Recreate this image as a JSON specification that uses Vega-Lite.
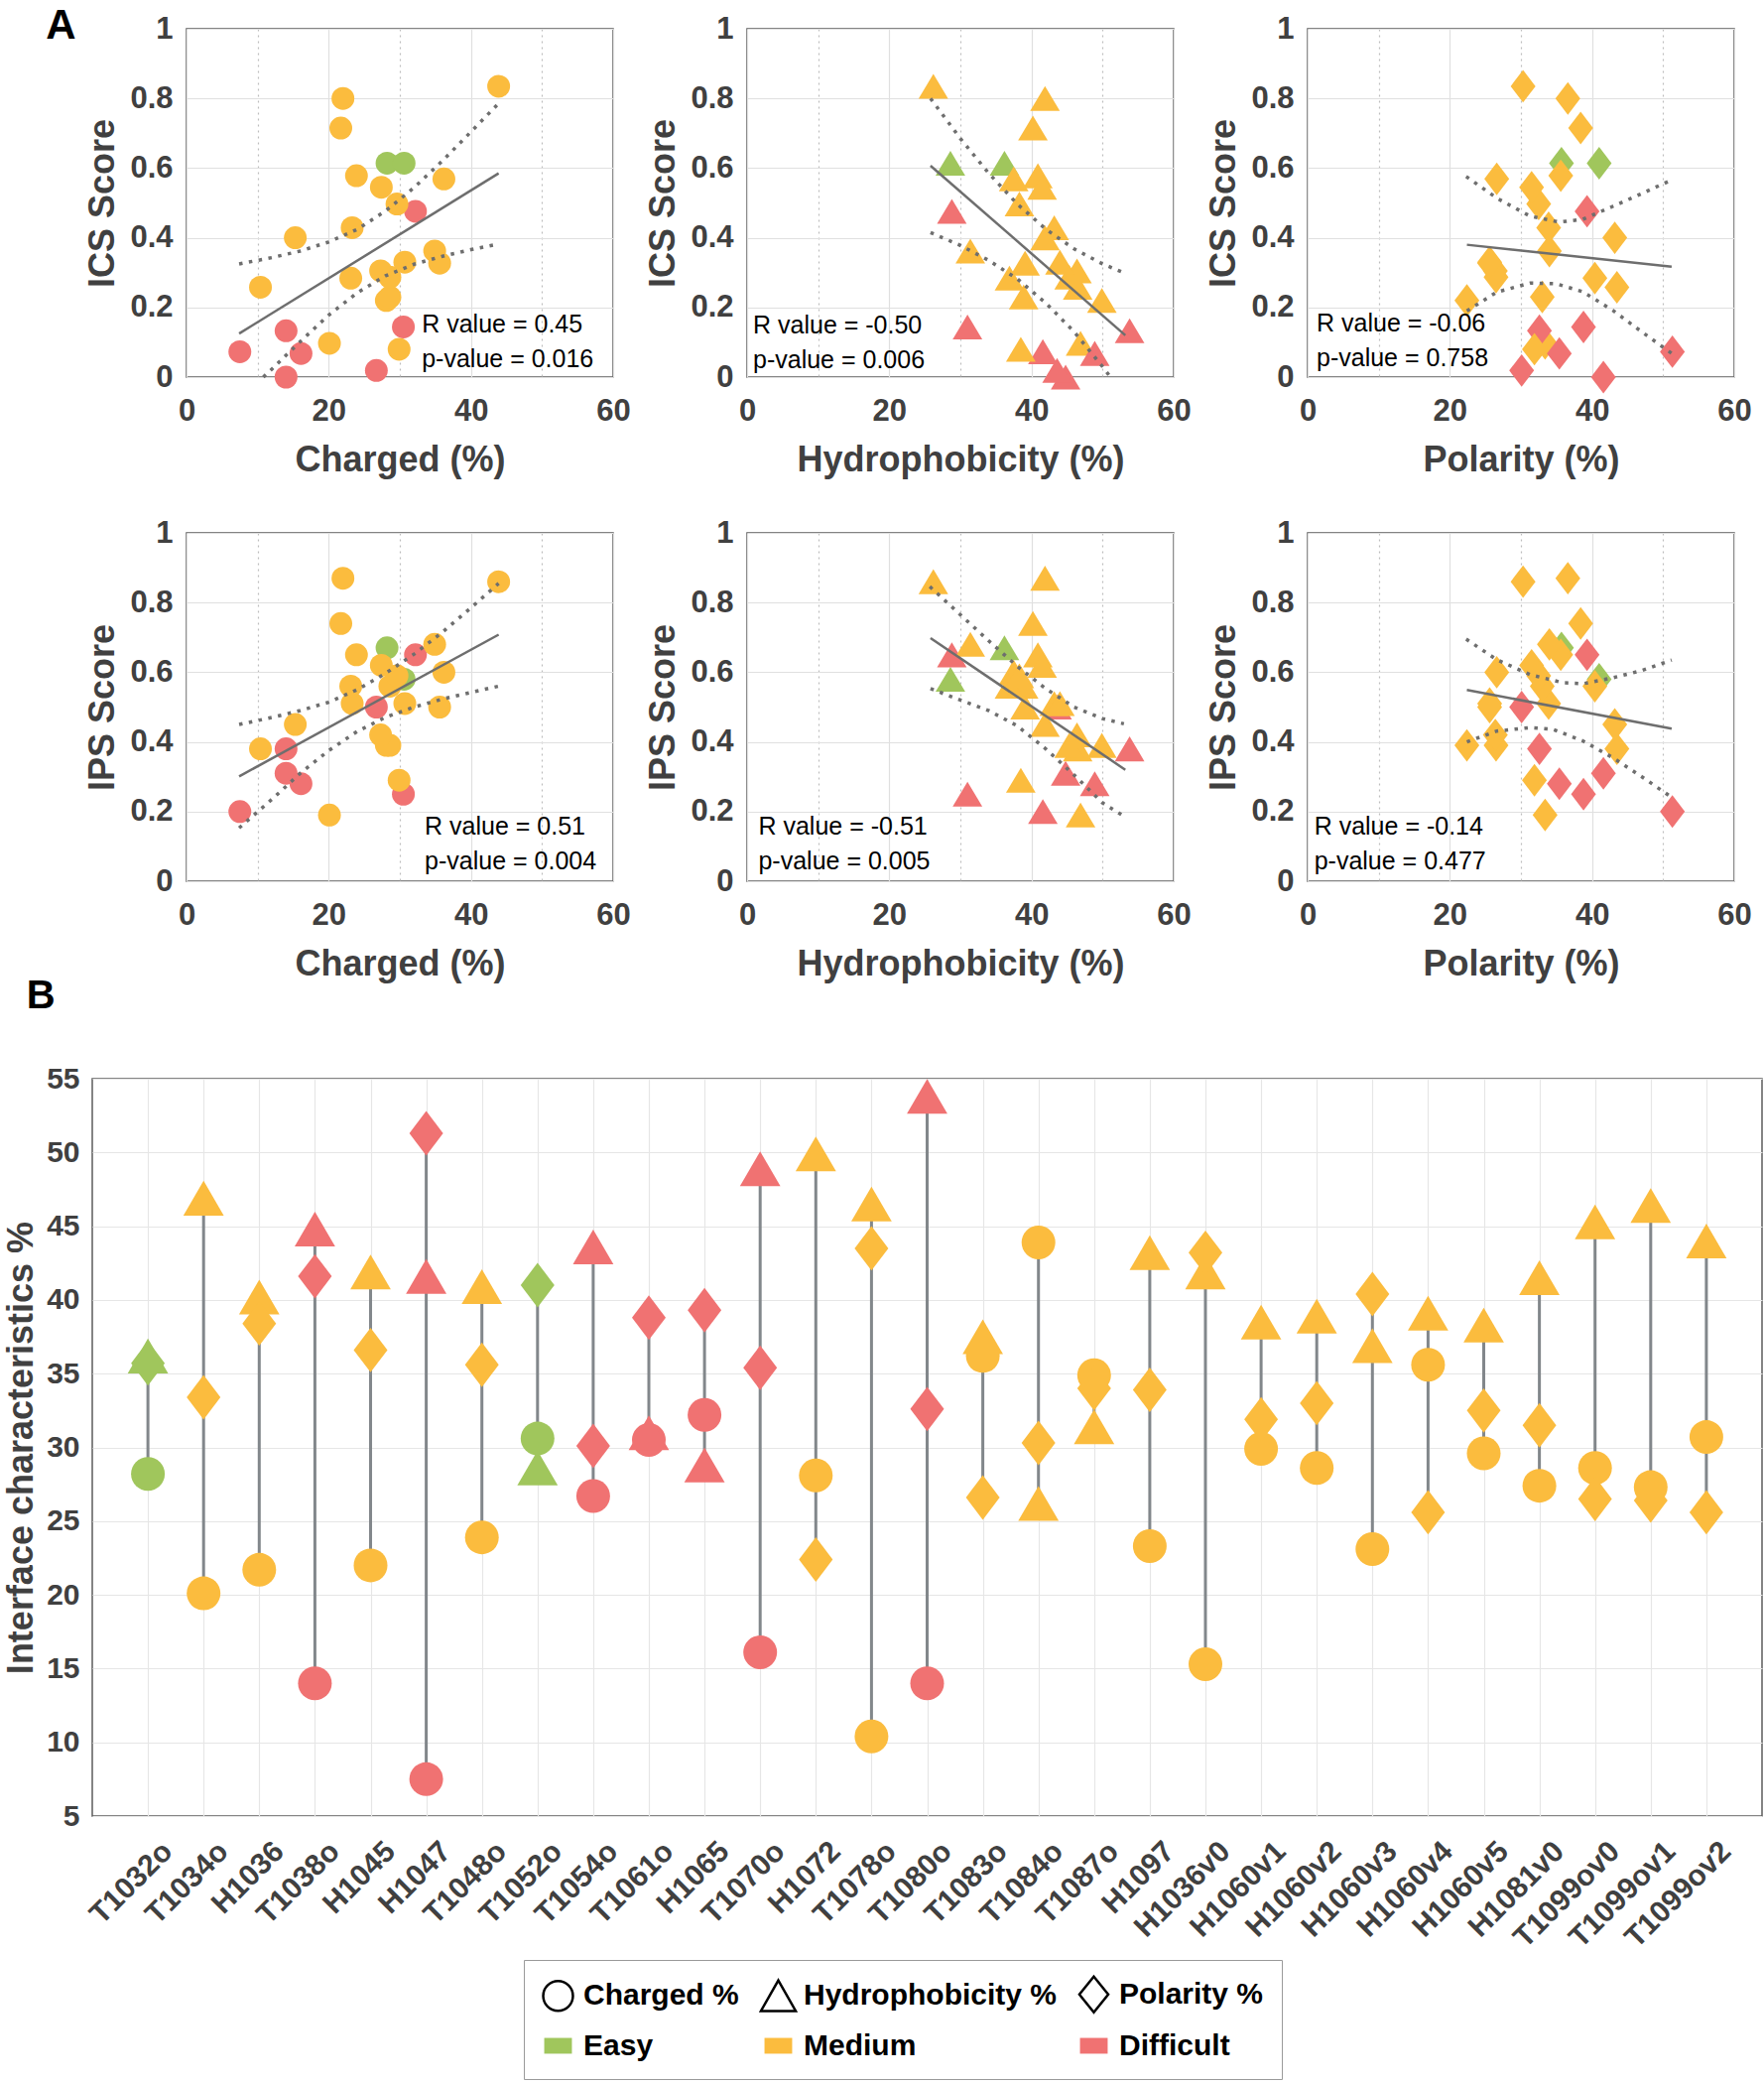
{
"$schema": "https://vega.github.io/schema/vega-lite/v6.json",
"padding": {"left": 2, "top": 5, "right": 0, "bottom": 0},
"background": "white",
"datasets": {
"targets": [
{"target":"T1032o","diff":"Easy","charged":28.2,"hydro":36.2,"polar":35.7,"ics":0.614,"ips":0.67},
{"target":"T1034o","diff":"Medium","charged":20.1,"hydro":46.9,"polar":33.4,"ics":0.097,"ips":0.19},
{"target":"H1036","diff":"Medium","charged":21.7,"hydro":40.2,"polar":38.4,"ics":0.715,"ips":0.74},
{"target":"T1038o","diff":"Difficult","charged":14.0,"hydro":44.8,"polar":41.6,"ics":0.0,"ips":0.31},
{"target":"H1045","diff":"Medium","charged":22.0,"hydro":41.9,"polar":36.6,"ics":0.80,"ips":0.87},
{"target":"H1047","diff":"Difficult","charged":7.5,"hydro":41.6,"polar":51.3,"ics":0.073,"ips":0.20},
{"target":"T1048o","diff":"Medium","charged":23.9,"hydro":40.9,"polar":35.6,"ics":0.578,"ips":0.65},
{"target":"T1052o","diff":"Easy","charged":30.6,"hydro":28.6,"polar":41.0,"ics":0.614,"ips":0.58},
{"target":"T1054o","diff":"Difficult","charged":26.7,"hydro":43.6,"polar":30.1,"ics":0.019,"ips":0.50},
{"target":"T1061o","diff":"Difficult","charged":30.5,"hydro":31.0,"polar":38.8,"ics":0.144,"ips":0.25},
{"target":"H1065","diff":"Difficult","charged":32.2,"hydro":28.8,"polar":39.3,"ics":0.476,"ips":0.65},
{"target":"T1070o","diff":"Difficult","charged":16.1,"hydro":48.9,"polar":35.4,"ics":0.068,"ips":0.28},
{"target":"H1072","diff":"Medium","charged":28.1,"hydro":49.9,"polar":22.4,"ics":0.22,"ips":0.39},
{"target":"T1078o","diff":"Medium","charged":10.4,"hydro":46.5,"polar":43.5,"ics":0.258,"ips":0.38},
{"target":"T1080o","diff":"Difficult","charged":14.0,"hydro":53.8,"polar":32.6,"ics":0.133,"ips":0.38},
{"target":"T1083o","diff":"Medium","charged":36.2,"hydro":37.5,"polar":26.6,"ics":0.569,"ips":0.60},
{"target":"T1084o","diff":"Medium","charged":43.9,"hydro":26.2,"polar":30.3,"ics":0.835,"ips":0.86},
{"target":"T1087o","diff":"Medium","charged":34.9,"hydro":31.4,"polar":34.0,"ics":0.362,"ips":0.68},
{"target":"H1097","diff":"Medium","charged":23.3,"hydro":43.2,"polar":33.9,"ics":0.429,"ips":0.51},
{"target":"H1036v0","diff":"Medium","charged":15.3,"hydro":41.9,"polar":43.2,"ics":0.40,"ips":0.45},
{"target":"H1060v1","diff":"Medium","charged":29.9,"hydro":38.5,"polar":31.9,"ics":0.08,"ips":0.29},
{"target":"H1060v2","diff":"Medium","charged":28.6,"hydro":38.9,"polar":33.0,"ics":0.23,"ips":0.56},
{"target":"H1060v3","diff":"Medium","charged":23.1,"hydro":36.9,"polar":40.4,"ics":0.284,"ips":0.56},
{"target":"H1060v4","diff":"Medium","charged":35.6,"hydro":39.1,"polar":25.6,"ics":0.327,"ips":0.50},
{"target":"H1060v5","diff":"Medium","charged":29.6,"hydro":38.3,"polar":32.5,"ics":0.497,"ips":0.59},
{"target":"H1081v0","diff":"Medium","charged":27.4,"hydro":41.5,"polar":31.5,"ics":0.545,"ips":0.62},
{"target":"T1099ov0","diff":"Medium","charged":28.6,"hydro":45.3,"polar":26.5,"ics":0.287,"ips":0.39},
{"target":"T1099ov1","diff":"Medium","charged":27.3,"hydro":46.4,"polar":26.4,"ics":0.305,"ips":0.42},
{"target":"T1099ov2","diff":"Medium","charged":30.7,"hydro":44.0,"polar":25.6,"ics":0.33,"ips":0.51}
],
"fits": [
{"panel":"p1","kind":"fit","x":7.4,"y":0.125},{"panel":"p1","kind":"fit","x":43.9,"y":0.585},
{"panel":"p1","kind":"upper","x":7.4,"y":0.325},{"panel":"p1","kind":"upper","x":12,"y":0.343},{"panel":"p1","kind":"upper","x":16,"y":0.362},{"panel":"p1","kind":"upper","x":20,"y":0.388},{"panel":"p1","kind":"upper","x":24,"y":0.424},{"panel":"p1","kind":"upper","x":28,"y":0.477},{"panel":"p1","kind":"upper","x":32,"y":0.544},{"panel":"p1","kind":"upper","x":36,"y":0.621},{"panel":"p1","kind":"upper","x":40,"y":0.704},{"panel":"p1","kind":"upper","x":43.9,"y":0.786},
{"panel":"p1","kind":"lower","x":10.8,"y":0.0},{"panel":"p1","kind":"lower","x":12,"y":0.023},{"panel":"p1","kind":"lower","x":16,"y":0.102},{"panel":"p1","kind":"lower","x":20,"y":0.178},{"panel":"p1","kind":"lower","x":24,"y":0.242},{"panel":"p1","kind":"lower","x":28,"y":0.291},{"panel":"p1","kind":"lower","x":32,"y":0.324},{"panel":"p1","kind":"lower","x":36,"y":0.347},{"panel":"p1","kind":"lower","x":40,"y":0.366},{"panel":"p1","kind":"lower","x":43.9,"y":0.382},
{"panel":"p2","kind":"fit","x":25.8,"y":0.607},{"panel":"p2","kind":"fit","x":53.2,"y":0.12},
{"panel":"p2","kind":"upper","x":25.8,"y":0.80},{"panel":"p2","kind":"upper","x":30,"y":0.685},{"panel":"p2","kind":"upper","x":34,"y":0.585},{"panel":"p2","kind":"upper","x":38,"y":0.497},{"panel":"p2","kind":"upper","x":42,"y":0.425},{"panel":"p2","kind":"upper","x":46,"y":0.368},{"panel":"p2","kind":"upper","x":50,"y":0.325},{"panel":"p2","kind":"upper","x":53.2,"y":0.298},
{"panel":"p2","kind":"lower","x":25.8,"y":0.415},{"panel":"p2","kind":"lower","x":30,"y":0.378},{"panel":"p2","kind":"lower","x":34,"y":0.335},{"panel":"p2","kind":"lower","x":38,"y":0.282},{"panel":"p2","kind":"lower","x":42,"y":0.213},{"panel":"p2","kind":"lower","x":46,"y":0.13},{"panel":"p2","kind":"lower","x":50,"y":0.03},{"panel":"p2","kind":"lower","x":51.1,"y":0.0},
{"panel":"p3","kind":"fit","x":22.4,"y":0.38},{"panel":"p3","kind":"fit","x":51.2,"y":0.317},
{"panel":"p3","kind":"upper","x":22.3,"y":0.576},{"panel":"p3","kind":"upper","x":26.6,"y":0.514},{"panel":"p3","kind":"upper","x":31.3,"y":0.462},{"panel":"p3","kind":"upper","x":35.4,"y":0.445},{"panel":"p3","kind":"upper","x":38.7,"y":0.453},{"panel":"p3","kind":"upper","x":42.9,"y":0.49},{"panel":"p3","kind":"upper","x":47,"y":0.527},{"panel":"p3","kind":"upper","x":51.2,"y":0.566},
{"panel":"p3","kind":"lower","x":22.4,"y":0.19},{"panel":"p3","kind":"lower","x":26.6,"y":0.244},{"panel":"p3","kind":"lower","x":31.3,"y":0.27},{"panel":"p3","kind":"lower","x":35,"y":0.268},{"panel":"p3","kind":"lower","x":38.7,"y":0.245},{"panel":"p3","kind":"lower","x":42.9,"y":0.192},{"panel":"p3","kind":"lower","x":47,"y":0.13},{"panel":"p3","kind":"lower","x":51.2,"y":0.068},
{"panel":"p4","kind":"fit","x":7.4,"y":0.301},{"panel":"p4","kind":"fit","x":43.9,"y":0.708},
{"panel":"p4","kind":"upper","x":7.4,"y":0.45},{"panel":"p4","kind":"upper","x":12,"y":0.47},{"panel":"p4","kind":"upper","x":16,"y":0.49},{"panel":"p4","kind":"upper","x":20,"y":0.514},{"panel":"p4","kind":"upper","x":24,"y":0.55},{"panel":"p4","kind":"upper","x":28,"y":0.597},{"panel":"p4","kind":"upper","x":32,"y":0.652},{"panel":"p4","kind":"upper","x":36,"y":0.715},{"panel":"p4","kind":"upper","x":40,"y":0.785},{"panel":"p4","kind":"upper","x":43.9,"y":0.855},
{"panel":"p4","kind":"lower","x":7.4,"y":0.153},{"panel":"p4","kind":"lower","x":12,"y":0.235},{"panel":"p4","kind":"lower","x":16,"y":0.31},{"panel":"p4","kind":"lower","x":20,"y":0.375},{"panel":"p4","kind":"lower","x":24,"y":0.43},{"panel":"p4","kind":"lower","x":28,"y":0.471},{"panel":"p4","kind":"lower","x":32,"y":0.5},{"panel":"p4","kind":"lower","x":36,"y":0.523},{"panel":"p4","kind":"lower","x":40,"y":0.542},{"panel":"p4","kind":"lower","x":43.9,"y":0.56},
{"panel":"p5","kind":"fit","x":25.8,"y":0.698},{"panel":"p5","kind":"fit","x":53.2,"y":0.32},
{"panel":"p5","kind":"upper","x":25.7,"y":0.846},{"panel":"p5","kind":"upper","x":30,"y":0.765},{"panel":"p5","kind":"upper","x":34,"y":0.69},{"panel":"p5","kind":"upper","x":38,"y":0.617},{"panel":"p5","kind":"upper","x":42,"y":0.553},{"panel":"p5","kind":"upper","x":46,"y":0.5},{"panel":"p5","kind":"upper","x":50,"y":0.467},{"panel":"p5","kind":"upper","x":53,"y":0.452},
{"panel":"p5","kind":"lower","x":25.8,"y":0.553},{"panel":"p5","kind":"lower","x":30,"y":0.52},{"panel":"p5","kind":"lower","x":34,"y":0.49},{"panel":"p5","kind":"lower","x":38,"y":0.446},{"panel":"p5","kind":"lower","x":42,"y":0.38},{"panel":"p5","kind":"lower","x":46,"y":0.305},{"panel":"p5","kind":"lower","x":50,"y":0.225},{"panel":"p5","kind":"lower","x":53.2,"y":0.184},
{"panel":"p6","kind":"fit","x":22.4,"y":0.549},{"panel":"p6","kind":"fit","x":51.2,"y":0.438},
{"panel":"p6","kind":"upper","x":22.3,"y":0.695},{"panel":"p6","kind":"upper","x":26.6,"y":0.636},{"panel":"p6","kind":"upper","x":31.3,"y":0.593},{"panel":"p6","kind":"upper","x":35.9,"y":0.57},{"panel":"p6","kind":"upper","x":38.7,"y":0.567},{"panel":"p6","kind":"upper","x":42.9,"y":0.584},{"panel":"p6","kind":"upper","x":47,"y":0.605},{"panel":"p6","kind":"upper","x":51.2,"y":0.635},
{"panel":"p6","kind":"lower","x":22.4,"y":0.40},{"panel":"p6","kind":"lower","x":26.6,"y":0.431},{"panel":"p6","kind":"lower","x":31.3,"y":0.441},{"panel":"p6","kind":"lower","x":34.5,"y":0.436},{"panel":"p6","kind":"lower","x":38.7,"y":0.403},{"panel":"p6","kind":"lower","x":42.9,"y":0.355},{"panel":"p6","kind":"lower","x":47,"y":0.30},{"panel":"p6","kind":"lower","x":51.2,"y":0.241}
]
},
"vconcat": [
{
"title": {"text": "A", "anchor": "start", "fontSize": 42, "fontWeight": "bold", "color": "black", "offset": 0, "dx": -39, "dy": 36},
"spacing": 38,
"vconcat": [
{"spacing": -10, "hconcat": [
{"width": 2, "height": 351, "data": {"values": []}, "mark": {"type": "point"}, "view": {"stroke": null}},
{"spacing": 14, "hconcat": [
{"width": 430, "height": 351, "layer": [
 {"data": {"name": "targets"}, "mark": {"type": "point", "filled": true, "opacity": 1, "size": 529, "shape": "circle", "strokeWidth": 0},
  "encoding": {
   "x": {"field": "charged", "type": "quantitative", "title": "Charged (%)", "scale": {"domain": [0, 60], "nice": false, "zero": false},
    "axis": {"values": [0,5,10,15,20,25,30,35,40,45,50,55,60], "format": "~g", "labelExpr": "datum.value % 20 === 0 ? datum.label : ''", "gridDash": {"condition": {"test": "datum.value % 20 !== 0", "value": [2,4]}, "value": []}, "gridColor": {"condition": {"test": "datum.value % 20 !== 0", "value": "#bdbdbd"}, "value": "#e0e0e0"}, "labelFontSize": 31, "labelPadding": 19, "titleFontSize": 36, "titlePadding": 17, "labelFlush": false, "labelOverlap": false}},
   "y": {"field": "ics", "type": "quantitative", "title": "ICS Score", "scale": {"domain": [0, 1], "nice": false, "zero": false},
    "axis": {"values": [0,0.05,0.1,0.15,0.2,0.25,0.3,0.35,0.4,0.45,0.5,0.55,0.6,0.65,0.7,0.75,0.8,0.85,0.9,0.95,1], "format": "~g", "labelExpr": "abs(datum.value*5 - round(datum.value*5)) < 0.01 ? datum.label : ''", "gridDash": {"condition": {"test": "abs(datum.value*5 - round(datum.value*5)) > 0.01", "value": [2,4]}, "value": []}, "gridColor": {"condition": {"test": "abs(datum.value*5 - round(datum.value*5)) > 0.01", "value": "#bdbdbd"}, "value": "#e0e0e0"}, "labelFontSize": 31, "labelPadding": 14, "titleFontSize": 36, "titlePadding": 8, "labelFlush": false, "labelOverlap": false}},
   "color": {"field": "diff", "type": "nominal", "scale": {"domain": ["Easy","Medium","Difficult"], "range": ["#a0c65c","#fbbc3e","#f07272"]}, "legend": null}}},
 {"data": {"name": "fits"}, "transform": [{"filter": "datum.panel === 'p1' && datum.kind !== 'fit'"}], "mark": {"type": "line", "strokeDash": [3.5, 6.5], "strokeWidth": 3.5, "color": "#6e6e6e"},
  "encoding": {"x": {"field": "x", "type": "quantitative", "title": "Charged (%)"}, "y": {"field": "y", "type": "quantitative", "title": "ICS Score"}, "detail": {"field": "kind"}}},
 {"data": {"name": "fits"}, "transform": [{"filter": "datum.panel === 'p1' && datum.kind === 'fit'"}], "mark": {"type": "line", "strokeWidth": 2.5, "color": "#6e6e6e"},
  "encoding": {"x": {"field": "x", "type": "quantitative", "title": "Charged (%)"}, "y": {"field": "y", "type": "quantitative", "title": "ICS Score"}}},
 {"data": {"values": [{}]}, "mark": {"type": "text", "text": ["R value = 0.45", "p-value = 0.016"], "align": "left", "baseline": "alphabetic", "fontSize": 25, "lineHeight": 35, "font": "Liberation Sans", "color": "black"},
  "encoding": {"x": {"datum": 33.1}, "y": {"datum": 0.128}}}
]},
{"width": 430, "height": 351, "layer": [
 {"data": {"name": "targets"}, "mark": {"type": "point", "filled": true, "opacity": 1, "size": 529, "shape": "M0,-1.09L1.3,1.09L-1.3,1.09Z", "strokeWidth": 0},
  "encoding": {
   "x": {"field": "hydro", "type": "quantitative", "title": "Hydrophobicity (%)", "scale": {"domain": [0, 60], "nice": false, "zero": false},
    "axis": {"values": [0,5,10,15,20,25,30,35,40,45,50,55,60], "format": "~g", "labelExpr": "datum.value % 20 === 0 ? datum.label : ''", "gridDash": {"condition": {"test": "datum.value % 20 !== 0", "value": [2,4]}, "value": []}, "gridColor": {"condition": {"test": "datum.value % 20 !== 0", "value": "#bdbdbd"}, "value": "#e0e0e0"}, "labelFontSize": 31, "labelPadding": 19, "titleFontSize": 36, "titlePadding": 17, "labelFlush": false, "labelOverlap": false}},
   "y": {"field": "ics", "type": "quantitative", "title": "ICS Score", "scale": {"domain": [0, 1], "nice": false, "zero": false},
    "axis": {"values": [0,0.05,0.1,0.15,0.2,0.25,0.3,0.35,0.4,0.45,0.5,0.55,0.6,0.65,0.7,0.75,0.8,0.85,0.9,0.95,1], "format": "~g", "labelExpr": "abs(datum.value*5 - round(datum.value*5)) < 0.01 ? datum.label : ''", "gridDash": {"condition": {"test": "abs(datum.value*5 - round(datum.value*5)) > 0.01", "value": [2,4]}, "value": []}, "gridColor": {"condition": {"test": "abs(datum.value*5 - round(datum.value*5)) > 0.01", "value": "#bdbdbd"}, "value": "#e0e0e0"}, "labelFontSize": 31, "labelPadding": 14, "titleFontSize": 36, "titlePadding": 8, "labelFlush": false, "labelOverlap": false}},
   "color": {"field": "diff", "type": "nominal", "scale": {"domain": ["Easy","Medium","Difficult"], "range": ["#a0c65c","#fbbc3e","#f07272"]}, "legend": null}}},
 {"data": {"name": "fits"}, "transform": [{"filter": "datum.panel === 'p2' && datum.kind !== 'fit'"}], "mark": {"type": "line", "strokeDash": [3.5, 6.5], "strokeWidth": 3.5, "color": "#6e6e6e"},
  "encoding": {"x": {"field": "x", "type": "quantitative", "title": "Hydrophobicity (%)"}, "y": {"field": "y", "type": "quantitative", "title": "ICS Score"}, "detail": {"field": "kind"}}},
 {"data": {"name": "fits"}, "transform": [{"filter": "datum.panel === 'p2' && datum.kind === 'fit'"}], "mark": {"type": "line", "strokeWidth": 2.5, "color": "#6e6e6e"},
  "encoding": {"x": {"field": "x", "type": "quantitative", "title": "Hydrophobicity (%)"}, "y": {"field": "y", "type": "quantitative", "title": "ICS Score"}}},
 {"data": {"values": [{}]}, "mark": {"type": "text", "text": ["R value = -0.50", "p-value = 0.006"], "align": "left", "baseline": "alphabetic", "fontSize": 25, "lineHeight": 35, "font": "Liberation Sans", "color": "black"},
  "encoding": {"x": {"datum": 0.84}, "y": {"datum": 0.126}}}
]},
{"width": 430, "height": 351, "layer": [
 {"data": {"name": "targets"}, "mark": {"type": "point", "filled": true, "opacity": 1, "size": 529, "shape": "M0,-1.43L1.09,0L0,1.43L-1.09,0Z", "strokeWidth": 0},
  "encoding": {
   "x": {"field": "polar", "type": "quantitative", "title": "Polarity (%)", "scale": {"domain": [0, 60], "nice": false, "zero": false},
    "axis": {"values": [0,5,10,15,20,25,30,35,40,45,50,55,60], "format": "~g", "labelExpr": "datum.value % 20 === 0 ? datum.label : ''", "gridDash": {"condition": {"test": "datum.value % 20 !== 0", "value": [2,4]}, "value": []}, "gridColor": {"condition": {"test": "datum.value % 20 !== 0", "value": "#bdbdbd"}, "value": "#e0e0e0"}, "labelFontSize": 31, "labelPadding": 19, "titleFontSize": 36, "titlePadding": 17, "labelFlush": false, "labelOverlap": false}},
   "y": {"field": "ics", "type": "quantitative", "title": "ICS Score", "scale": {"domain": [0, 1], "nice": false, "zero": false},
    "axis": {"values": [0,0.05,0.1,0.15,0.2,0.25,0.3,0.35,0.4,0.45,0.5,0.55,0.6,0.65,0.7,0.75,0.8,0.85,0.9,0.95,1], "format": "~g", "labelExpr": "abs(datum.value*5 - round(datum.value*5)) < 0.01 ? datum.label : ''", "gridDash": {"condition": {"test": "abs(datum.value*5 - round(datum.value*5)) > 0.01", "value": [2,4]}, "value": []}, "gridColor": {"condition": {"test": "abs(datum.value*5 - round(datum.value*5)) > 0.01", "value": "#bdbdbd"}, "value": "#e0e0e0"}, "labelFontSize": 31, "labelPadding": 14, "titleFontSize": 36, "titlePadding": 8, "labelFlush": false, "labelOverlap": false}},
   "color": {"field": "diff", "type": "nominal", "scale": {"domain": ["Easy","Medium","Difficult"], "range": ["#a0c65c","#fbbc3e","#f07272"]}, "legend": null}}},
 {"data": {"name": "fits"}, "transform": [{"filter": "datum.panel === 'p3' && datum.kind !== 'fit'"}], "mark": {"type": "line", "strokeDash": [3.5, 6.5], "strokeWidth": 3.5, "color": "#6e6e6e"},
  "encoding": {"x": {"field": "x", "type": "quantitative", "title": "Polarity (%)"}, "y": {"field": "y", "type": "quantitative", "title": "ICS Score"}, "detail": {"field": "kind"}}},
 {"data": {"name": "fits"}, "transform": [{"filter": "datum.panel === 'p3' && datum.kind === 'fit'"}], "mark": {"type": "line", "strokeWidth": 2.5, "color": "#6e6e6e"},
  "encoding": {"x": {"field": "x", "type": "quantitative", "title": "Polarity (%)"}, "y": {"field": "y", "type": "quantitative", "title": "ICS Score"}}},
 {"data": {"values": [{}]}, "mark": {"type": "text", "text": ["R value = -0.06", "p-value = 0.758"], "align": "left", "baseline": "alphabetic", "fontSize": 25, "lineHeight": 35, "font": "Liberation Sans", "color": "black"},
  "encoding": {"x": {"datum": 1.26}, "y": {"datum": 0.132}}}
]}
]}
]},
{"spacing": -10, "hconcat": [
{"width": 2, "height": 351, "data": {"values": []}, "mark": {"type": "point"}, "view": {"stroke": null}},
{"spacing": 14, "hconcat": [
{"width": 430, "height": 351, "layer": [
 {"data": {"name": "targets"}, "mark": {"type": "point", "filled": true, "opacity": 1, "size": 529, "shape": "circle", "strokeWidth": 0},
  "encoding": {
   "x": {"field": "charged", "type": "quantitative", "title": "Charged (%)", "scale": {"domain": [0, 60], "nice": false, "zero": false},
    "axis": {"values": [0,5,10,15,20,25,30,35,40,45,50,55,60], "format": "~g", "labelExpr": "datum.value % 20 === 0 ? datum.label : ''", "gridDash": {"condition": {"test": "datum.value % 20 !== 0", "value": [2,4]}, "value": []}, "gridColor": {"condition": {"test": "datum.value % 20 !== 0", "value": "#bdbdbd"}, "value": "#e0e0e0"}, "labelFontSize": 31, "labelPadding": 19, "titleFontSize": 36, "titlePadding": 17, "labelFlush": false, "labelOverlap": false}},
   "y": {"field": "ips", "type": "quantitative", "title": "IPS Score", "scale": {"domain": [0, 1], "nice": false, "zero": false},
    "axis": {"values": [0,0.05,0.1,0.15,0.2,0.25,0.3,0.35,0.4,0.45,0.5,0.55,0.6,0.65,0.7,0.75,0.8,0.85,0.9,0.95,1], "format": "~g", "labelExpr": "abs(datum.value*5 - round(datum.value*5)) < 0.01 ? datum.label : ''", "gridDash": {"condition": {"test": "abs(datum.value*5 - round(datum.value*5)) > 0.01", "value": [2,4]}, "value": []}, "gridColor": {"condition": {"test": "abs(datum.value*5 - round(datum.value*5)) > 0.01", "value": "#bdbdbd"}, "value": "#e0e0e0"}, "labelFontSize": 31, "labelPadding": 14, "titleFontSize": 36, "titlePadding": 8, "labelFlush": false, "labelOverlap": false}},
   "color": {"field": "diff", "type": "nominal", "scale": {"domain": ["Easy","Medium","Difficult"], "range": ["#a0c65c","#fbbc3e","#f07272"]}, "legend": null}}},
 {"data": {"name": "fits"}, "transform": [{"filter": "datum.panel === 'p4' && datum.kind !== 'fit'"}], "mark": {"type": "line", "strokeDash": [3.5, 6.5], "strokeWidth": 3.5, "color": "#6e6e6e"},
  "encoding": {"x": {"field": "x", "type": "quantitative", "title": "Charged (%)"}, "y": {"field": "y", "type": "quantitative", "title": "IPS Score"}, "detail": {"field": "kind"}}},
 {"data": {"name": "fits"}, "transform": [{"filter": "datum.panel === 'p4' && datum.kind === 'fit'"}], "mark": {"type": "line", "strokeWidth": 2.5, "color": "#6e6e6e"},
  "encoding": {"x": {"field": "x", "type": "quantitative", "title": "Charged (%)"}, "y": {"field": "y", "type": "quantitative", "title": "IPS Score"}}},
 {"data": {"values": [{}]}, "mark": {"type": "text", "text": ["R value = 0.51", "p-value = 0.004"], "align": "left", "baseline": "alphabetic", "fontSize": 25, "lineHeight": 35, "font": "Liberation Sans", "color": "black"},
  "encoding": {"x": {"datum": 33.5}, "y": {"datum": 0.134}}}
]},
{"width": 430, "height": 351, "layer": [
 {"data": {"name": "targets"}, "mark": {"type": "point", "filled": true, "opacity": 1, "size": 529, "shape": "M0,-1.09L1.3,1.09L-1.3,1.09Z", "strokeWidth": 0},
  "encoding": {
   "x": {"field": "hydro", "type": "quantitative", "title": "Hydrophobicity (%)", "scale": {"domain": [0, 60], "nice": false, "zero": false},
    "axis": {"values": [0,5,10,15,20,25,30,35,40,45,50,55,60], "format": "~g", "labelExpr": "datum.value % 20 === 0 ? datum.label : ''", "gridDash": {"condition": {"test": "datum.value % 20 !== 0", "value": [2,4]}, "value": []}, "gridColor": {"condition": {"test": "datum.value % 20 !== 0", "value": "#bdbdbd"}, "value": "#e0e0e0"}, "labelFontSize": 31, "labelPadding": 19, "titleFontSize": 36, "titlePadding": 17, "labelFlush": false, "labelOverlap": false}},
   "y": {"field": "ips", "type": "quantitative", "title": "IPS Score", "scale": {"domain": [0, 1], "nice": false, "zero": false},
    "axis": {"values": [0,0.05,0.1,0.15,0.2,0.25,0.3,0.35,0.4,0.45,0.5,0.55,0.6,0.65,0.7,0.75,0.8,0.85,0.9,0.95,1], "format": "~g", "labelExpr": "abs(datum.value*5 - round(datum.value*5)) < 0.01 ? datum.label : ''", "gridDash": {"condition": {"test": "abs(datum.value*5 - round(datum.value*5)) > 0.01", "value": [2,4]}, "value": []}, "gridColor": {"condition": {"test": "abs(datum.value*5 - round(datum.value*5)) > 0.01", "value": "#bdbdbd"}, "value": "#e0e0e0"}, "labelFontSize": 31, "labelPadding": 14, "titleFontSize": 36, "titlePadding": 8, "labelFlush": false, "labelOverlap": false}},
   "color": {"field": "diff", "type": "nominal", "scale": {"domain": ["Easy","Medium","Difficult"], "range": ["#a0c65c","#fbbc3e","#f07272"]}, "legend": null}}},
 {"data": {"name": "fits"}, "transform": [{"filter": "datum.panel === 'p5' && datum.kind !== 'fit'"}], "mark": {"type": "line", "strokeDash": [3.5, 6.5], "strokeWidth": 3.5, "color": "#6e6e6e"},
  "encoding": {"x": {"field": "x", "type": "quantitative", "title": "Hydrophobicity (%)"}, "y": {"field": "y", "type": "quantitative", "title": "IPS Score"}, "detail": {"field": "kind"}}},
 {"data": {"name": "fits"}, "transform": [{"filter": "datum.panel === 'p5' && datum.kind === 'fit'"}], "mark": {"type": "line", "strokeWidth": 2.5, "color": "#6e6e6e"},
  "encoding": {"x": {"field": "x", "type": "quantitative", "title": "Hydrophobicity (%)"}, "y": {"field": "y", "type": "quantitative", "title": "IPS Score"}}},
 {"data": {"values": [{}]}, "mark": {"type": "text", "text": ["R value = -0.51", "p-value = 0.005"], "align": "left", "baseline": "alphabetic", "fontSize": 25, "lineHeight": 35, "font": "Liberation Sans", "color": "black"},
  "encoding": {"x": {"datum": 1.6}, "y": {"datum": 0.134}}}
]},
{"width": 430, "height": 351, "layer": [
 {"data": {"name": "targets"}, "mark": {"type": "point", "filled": true, "opacity": 1, "size": 529, "shape": "M0,-1.43L1.09,0L0,1.43L-1.09,0Z", "strokeWidth": 0},
  "encoding": {
   "x": {"field": "polar", "type": "quantitative", "title": "Polarity (%)", "scale": {"domain": [0, 60], "nice": false, "zero": false},
    "axis": {"values": [0,5,10,15,20,25,30,35,40,45,50,55,60], "format": "~g", "labelExpr": "datum.value % 20 === 0 ? datum.label : ''", "gridDash": {"condition": {"test": "datum.value % 20 !== 0", "value": [2,4]}, "value": []}, "gridColor": {"condition": {"test": "datum.value % 20 !== 0", "value": "#bdbdbd"}, "value": "#e0e0e0"}, "labelFontSize": 31, "labelPadding": 19, "titleFontSize": 36, "titlePadding": 17, "labelFlush": false, "labelOverlap": false}},
   "y": {"field": "ips", "type": "quantitative", "title": "IPS Score", "scale": {"domain": [0, 1], "nice": false, "zero": false},
    "axis": {"values": [0,0.05,0.1,0.15,0.2,0.25,0.3,0.35,0.4,0.45,0.5,0.55,0.6,0.65,0.7,0.75,0.8,0.85,0.9,0.95,1], "format": "~g", "labelExpr": "abs(datum.value*5 - round(datum.value*5)) < 0.01 ? datum.label : ''", "gridDash": {"condition": {"test": "abs(datum.value*5 - round(datum.value*5)) > 0.01", "value": [2,4]}, "value": []}, "gridColor": {"condition": {"test": "abs(datum.value*5 - round(datum.value*5)) > 0.01", "value": "#bdbdbd"}, "value": "#e0e0e0"}, "labelFontSize": 31, "labelPadding": 14, "titleFontSize": 36, "titlePadding": 8, "labelFlush": false, "labelOverlap": false}},
   "color": {"field": "diff", "type": "nominal", "scale": {"domain": ["Easy","Medium","Difficult"], "range": ["#a0c65c","#fbbc3e","#f07272"]}, "legend": null}}},
 {"data": {"name": "fits"}, "transform": [{"filter": "datum.panel === 'p6' && datum.kind !== 'fit'"}], "mark": {"type": "line", "strokeDash": [3.5, 6.5], "strokeWidth": 3.5, "color": "#6e6e6e"},
  "encoding": {"x": {"field": "x", "type": "quantitative", "title": "Polarity (%)"}, "y": {"field": "y", "type": "quantitative", "title": "IPS Score"}, "detail": {"field": "kind"}}},
 {"data": {"name": "fits"}, "transform": [{"filter": "datum.panel === 'p6' && datum.kind === 'fit'"}], "mark": {"type": "line", "strokeWidth": 2.5, "color": "#6e6e6e"},
  "encoding": {"x": {"field": "x", "type": "quantitative", "title": "Polarity (%)"}, "y": {"field": "y", "type": "quantitative", "title": "IPS Score"}}},
 {"data": {"values": [{}]}, "mark": {"type": "text", "text": ["R value = -0.14", "p-value = 0.477"], "align": "left", "baseline": "alphabetic", "fontSize": 25, "lineHeight": 35, "font": "Liberation Sans", "color": "black"},
  "encoding": {"x": {"datum": 0.93}, "y": {"datum": 0.134}}}
]}
]}
]}
]
},
{
"width": 1683, "height": 743,
"title": {"text": "B", "anchor": "start", "fontSize": 40, "fontWeight": "bold", "color": "black", "offset": 48, "dx": 23},
"layer": [
 {"data": {"name": "targets"}, "transform": [{"fold": ["charged", "hydro", "polar"], "as": ["prop", "value"]}],
  "mark": {"type": "rule", "color": "#82878b", "strokeWidth": 3},
  "encoding": {
   "x": {"field": "target", "type": "ordinal", "sort": null, "title": null, "scale": {"type": "point", "padding": 1},
    "axis": {"labelAngle": -45, "labelAlign": "right", "labelBaseline": "top", "labelFontSize": 30, "labelPadding": 20, "labelOffset": 9, "grid": true, "gridColor": "#e6e6e6", "labelOverlap": false}},
   "y": {"aggregate": "min", "field": "value", "type": "quantitative", "title": "Interface characteristics %", "scale": {"domain": [5, 55], "nice": false, "zero": false},
    "axis": {"values": [5,10,15,20,25,30,35,40,45,50,55], "labelFontSize": 30, "labelPadding": 13, "titleFontSize": 36, "titlePadding": 6, "grid": true, "gridColor": "#e6e6e6", "labelFlush": false, "labelOverlap": false}},
   "y2": {"aggregate": "max", "field": "value"}}},
 {"data": {"name": "targets"}, "transform": [{"fold": ["charged", "hydro", "polar"], "as": ["prop", "value"]}],
  "mark": {"type": "point", "filled": true, "opacity": 1, "size": 1156, "strokeWidth": 0},
  "encoding": {
   "x": {"field": "target", "type": "ordinal", "sort": null, "title": null},
   "y": {"field": "value", "type": "quantitative", "title": "Interface characteristics %"},
   "color": {"field": "diff", "type": "nominal", "scale": {"domain": ["Easy","Medium","Difficult"], "range": ["#a0c65c","#fbbc3e","#f07272"]}, "legend": null},
   "shape": {"field": "prop", "type": "nominal", "scale": {"domain": ["charged","hydro","polar"], "range": ["circle", "M0,-1.03L1.2,1.03L-1.2,1.03Z", "M0,-1.32L1,0L0,1.32L-1,0Z"]}, "legend": null}}},
 {"data": {"values": [{"key": "Charged %"}, {"key": "Hydrophobicity %"}, {"key": "Polarity %"}, {"key": "Easy"}, {"key": "Medium"}, {"key": "Difficult"}]},
  "transform": [{"filter": "datum.key === 'none'"}],
  "mark": {"type": "point", "filled": true, "size": 900},
  "encoding": {
   "fill": {"field": "key", "type": "nominal", "scale": {"domain": ["Charged %","Hydrophobicity %","Polarity %","Easy","Medium","Difficult"], "range": ["white","white","white","#a0c65c","#fbbc3e","#f07272"]},
    "legend": {"title": null, "orient": "none", "legendX": 435, "legendY": 888, "direction": "horizontal", "columns": 3, "columnPadding": 16, "rowPadding": 12, "padding": 18, "strokeColor": "#9a9a9a", "fillColor": "white", "symbolSize": 900, "symbolStrokeWidth": 2.5, "labelFontSize": 30, "labelFontWeight": "bold", "labelColor": "black", "labelFont": "Liberation Sans", "labelOffset": 9, "labelLimit": 400, "symbolOpacity": 1}},
   "stroke": {"field": "key", "type": "nominal", "scale": {"domain": ["Charged %","Hydrophobicity %","Polarity %","Easy","Medium","Difficult"], "range": ["black","black","black","transparent","transparent","transparent"]},
    "legend": {"title": null, "orient": "none", "legendX": 435, "legendY": 888, "direction": "horizontal", "columns": 3, "columnPadding": 16, "rowPadding": 12, "padding": 18, "strokeColor": "#9a9a9a", "fillColor": "white", "symbolSize": 900, "symbolStrokeWidth": 2.5, "labelFontSize": 30, "labelFontWeight": "bold", "labelColor": "black", "labelFont": "Liberation Sans", "labelOffset": 9, "labelLimit": 400, "symbolOpacity": 1}},
   "shape": {"field": "key", "type": "nominal", "scale": {"domain": ["Charged %","Hydrophobicity %","Polarity %","Easy","Medium","Difficult"], "range": ["circle", "M0,-1.03L1.17,1.03L-1.17,1.03Z", "M0,-1.2L0.97,0L0,1.2L-0.97,0Z", "M-0.93,-0.53L0.93,-0.53L0.93,0.53L-0.93,0.53Z", "M-0.93,-0.53L0.93,-0.53L0.93,0.53L-0.93,0.53Z", "M-0.93,-0.53L0.93,-0.53L0.93,0.53L-0.93,0.53Z"]},
    "legend": {"title": null, "orient": "none", "legendX": 435, "legendY": 888, "direction": "horizontal", "columns": 3, "columnPadding": 16, "rowPadding": 12, "padding": 18, "strokeColor": "#9a9a9a", "fillColor": "white", "symbolSize": 900, "symbolStrokeWidth": 2.5, "labelFontSize": 30, "labelFontWeight": "bold", "labelColor": "black", "labelFont": "Liberation Sans", "labelOffset": 9, "labelLimit": 400, "symbolOpacity": 1}}}}
],
"resolve": {"scale": {"shape": "independent", "fill": "independent", "stroke": "independent"}}
}
],
"spacing": -7,
"config": {
 "font": "Liberation Sans",
 "view": {"stroke": "#5c5c5c", "strokeWidth": 1.5},
 "axis": {"domain": false, "ticks": false, "labelFont": "Liberation Sans", "titleFont": "Liberation Sans", "labelFontWeight": "bold", "titleFontWeight": "bold", "labelColor": "#404040", "titleColor": "#404040", "grid": true, "gridColor": "#e2e2e2", "gridWidth": 1.2},
 "title": {"font": "Liberation Sans"}
}
}
